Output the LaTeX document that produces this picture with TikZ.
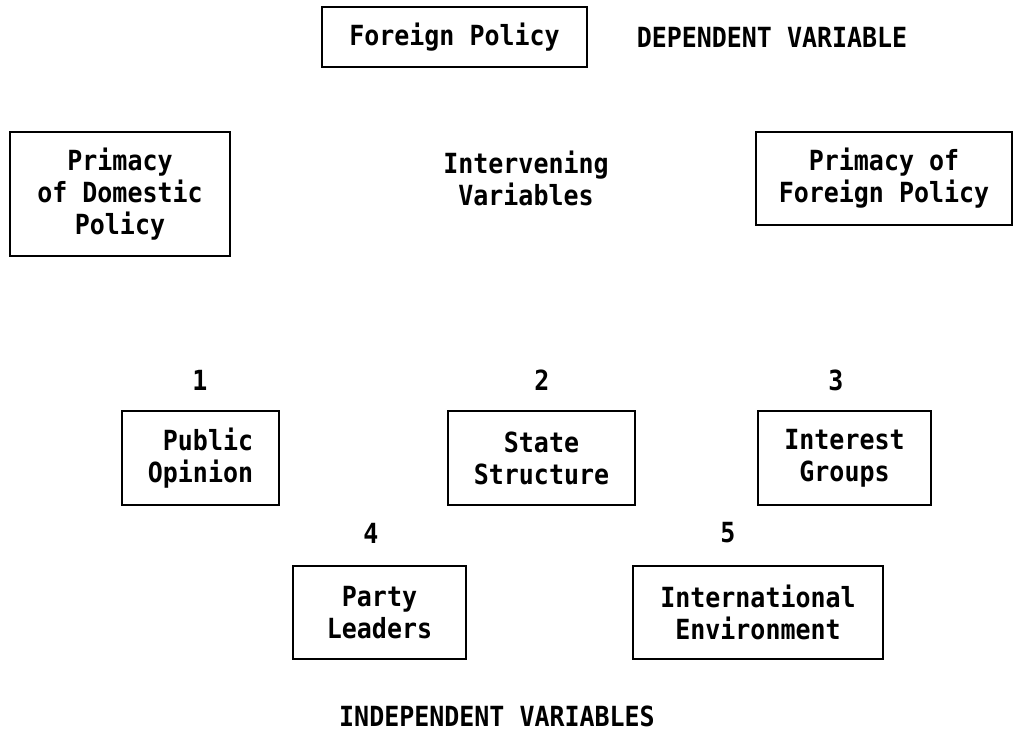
\documentclass[tikz,border=0pt]{standalone}
\usepackage{fontspec}
\setmonofont[FakeStretch=0.9]{DejaVu Sans Mono}
\usepackage{tikz}

\tikzset{
  varbox/.style={draw,line width=1.4pt,inner sep=0pt,align=center},
  vartext/.style={inner sep=0pt,align=center}
}

\begin{document}
\begin{tikzpicture}[x=0.75pt,y=-0.75pt,
    every node/.style={font=\ttfamily\bfseries\fontsize{20.8}{24}\selectfont}]
    \useasboundingbox (0,0) rectangle (1014,735);
    % dependent variable
    \node[varbox,minimum width=198.75pt,minimum height=45pt] (fp) at (454.5,37) {Foreign Policy};
    \node[vartext] (dep) at (772,37) {DEPENDENT VARIABLE};
    % intervening variables
    \node[varbox,minimum width=165pt,minimum height=93pt] (dom) at (120,194) {Primacy\\of Domestic\\Policy};
    \node[vartext] (inter) at (526,178) {Intervening\\Variables};
    \node[varbox,minimum width=192pt,minimum height=69.75pt] (forp) at (884,178.5) {Primacy of\\Foreign Policy};
    % independent variables
    \node[vartext] (n1) at (200,380) {1};
    \node[vartext] (n2) at (542,380) {2};
    \node[vartext] (n3) at (836,380) {3};
    \node[varbox,align=right,minimum width=117.75pt,minimum height=70.5pt] (po) at (200.5,458) {Public\\Opinion};
    \node[varbox,minimum width=140.25pt,minimum height=70.5pt] (ss) at (541.5,458) {State\\Structure};
    \node[varbox,minimum width=129.75pt,minimum height=70.5pt] (ig) at (844.5,458) {Interest\\Groups};
    \node[vartext] (n4) at (371,533) {4};
    \node[vartext] (n5) at (728,533) {5};
    \node[varbox,minimum width=129.75pt,minimum height=69.75pt] (pl) at (379.5,612.5) {Party\\Leaders};
    \node[varbox,minimum width=187.5pt,minimum height=69.75pt] (ie) at (758,612.5) {International\\Environment};
    \node[vartext] (indep) at (497,716) {INDEPENDENT VARIABLES};
\end{tikzpicture}
\end{document}
